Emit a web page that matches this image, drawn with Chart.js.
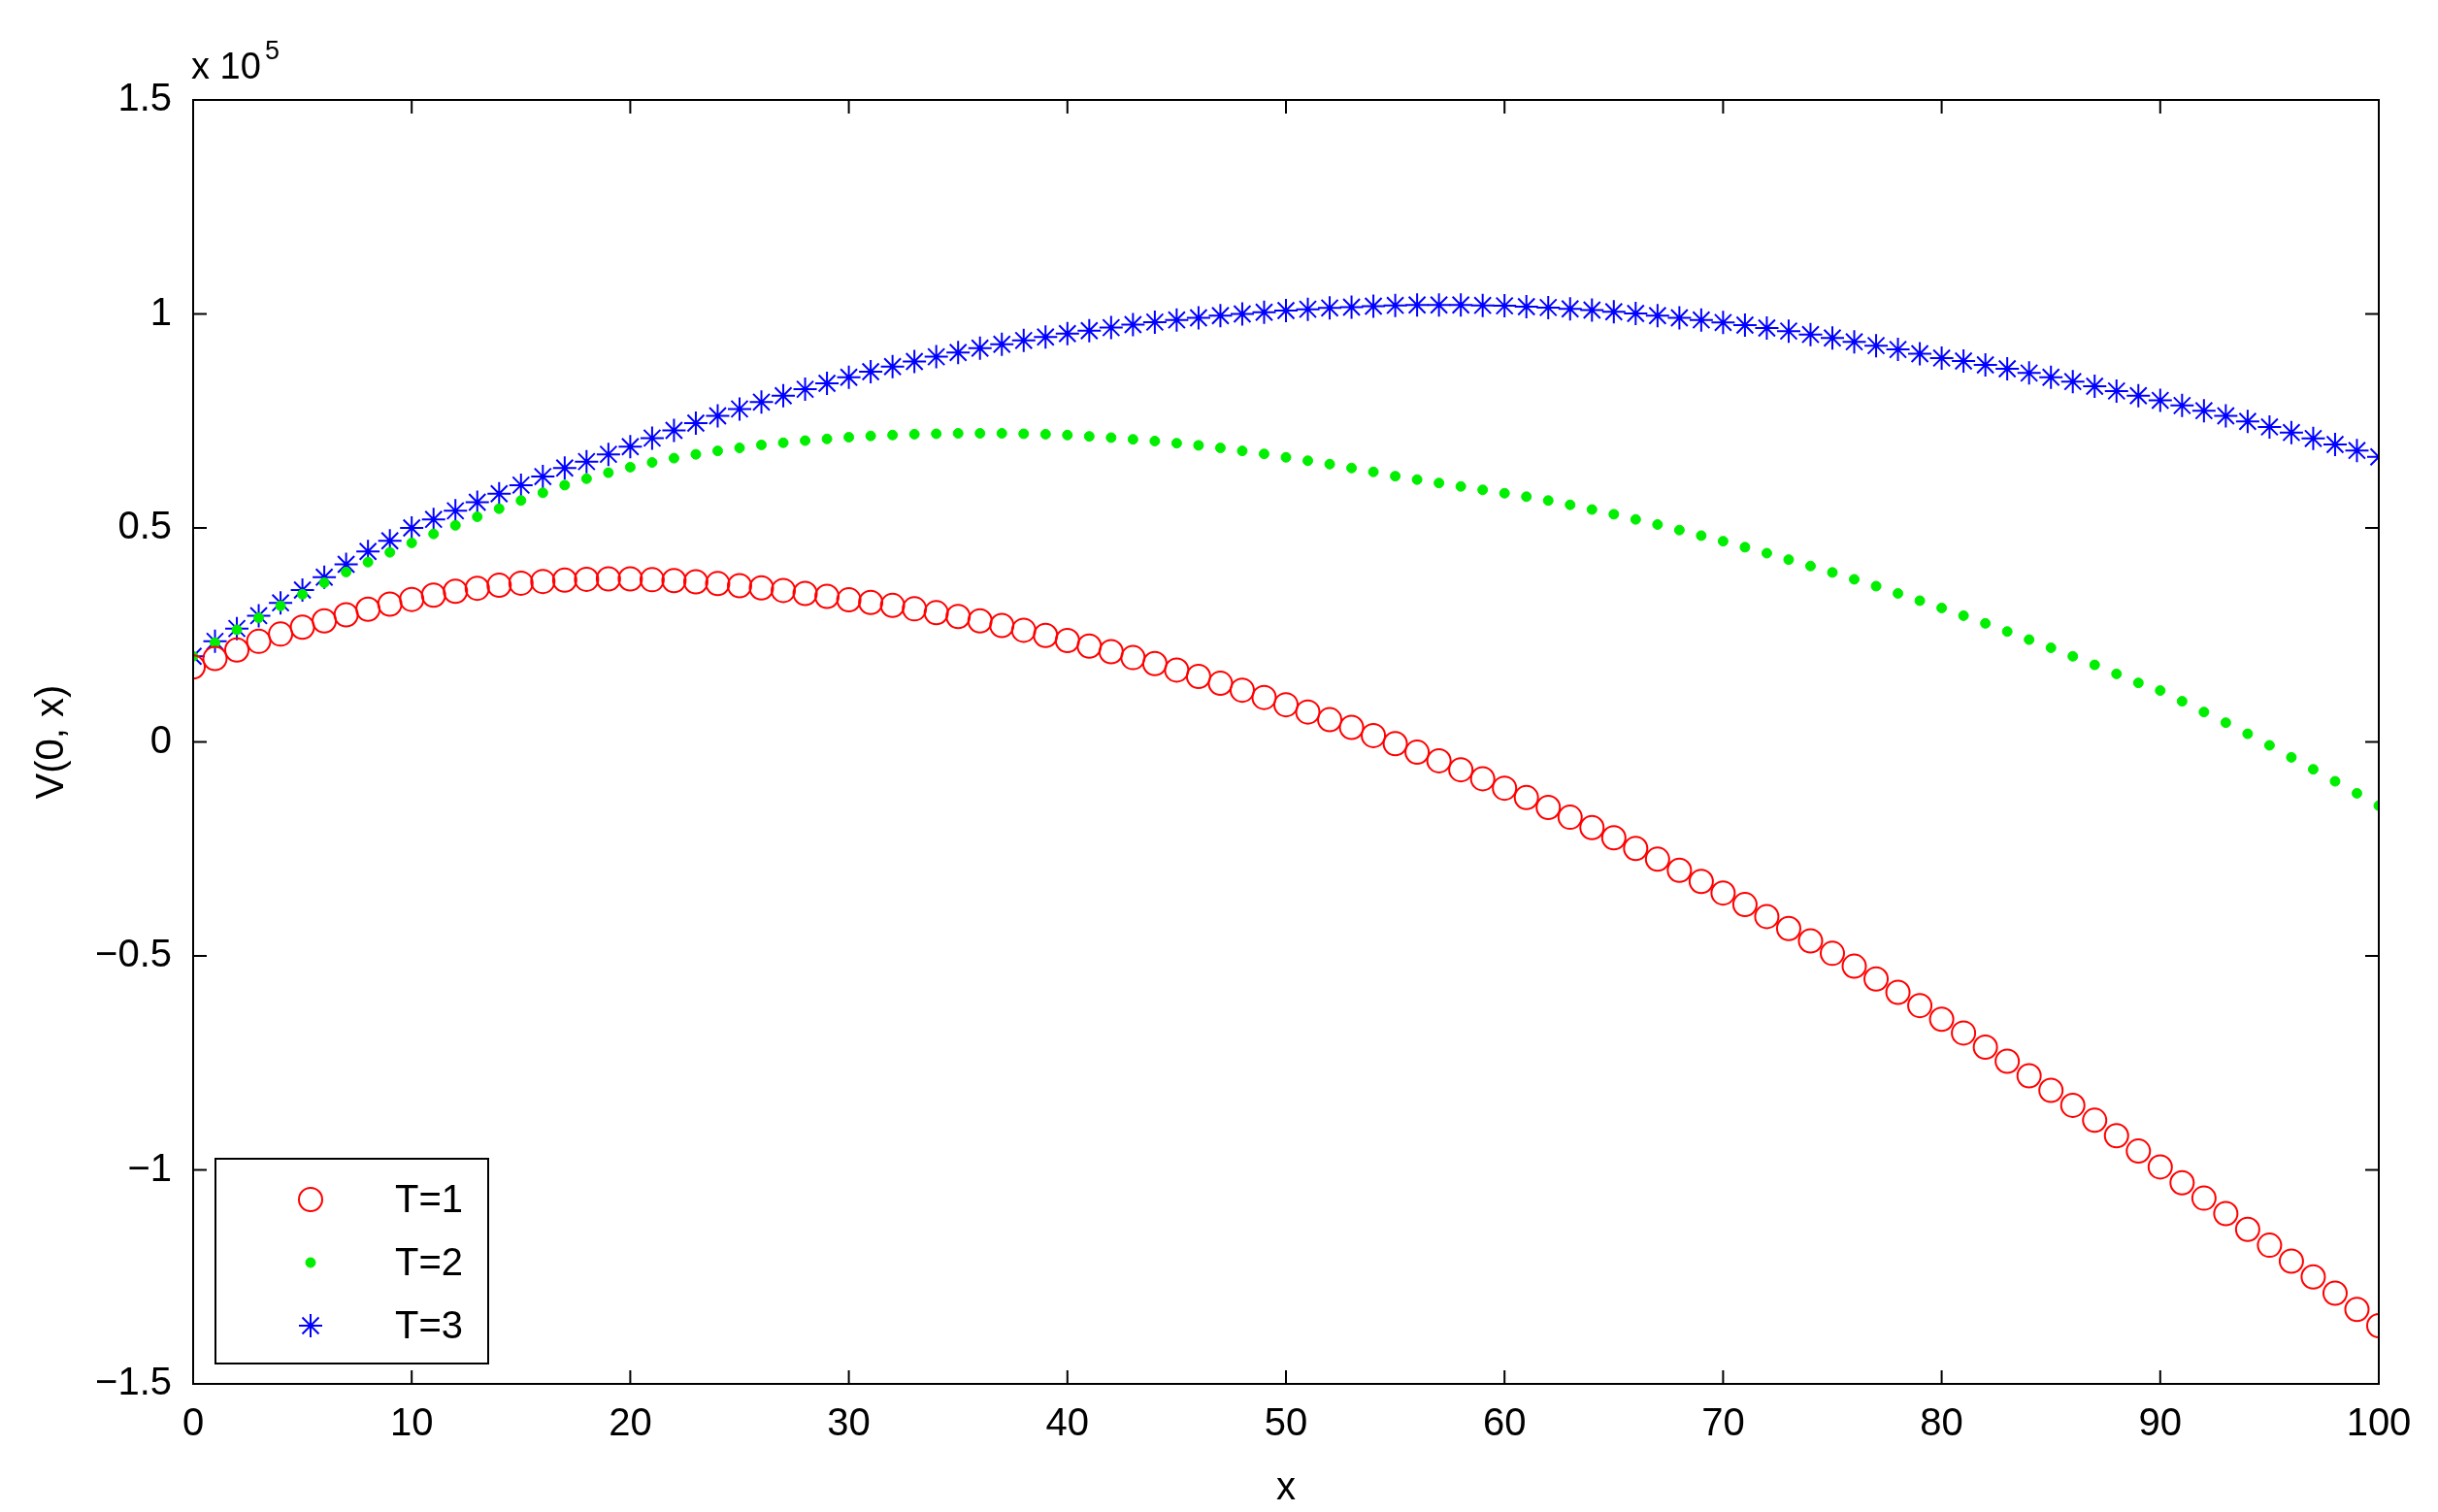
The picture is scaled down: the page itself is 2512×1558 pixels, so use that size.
<!DOCTYPE html>
<html>
<head>
<meta charset="utf-8">
<script src="https://cdn.jsdelivr.net/npm/chart.js@4"></script>
<style>
html,body{margin:0;padding:0;background:#fff;}
#wrap{width:2512px;height:1558px;}
</style>
</head>
<body>
<div id="wrap"><canvas id="c" width="2512" height="1558"></canvas></div>
<script>
// x values 0..100, y in units of 1e5
const xs = [];
for (let i = 0; i <= 100; i++) xs.push(i);

const t1 = [.175,.195,.215,.235,.252,.268,.283,.297,.31,.322,.333,
  .343,.352,.359,.366,.371,.375,.378,.38,.381,.381,
  .379,.377,.374,.37,.365,.36,.354,.347,.34,.332,
  .326,.319,.311,.302,.293,.283,.272,.261,.249,.237,
  .224,.211,.197,.183,.168,.153,.137,.121,.104,.087,
  .07,.052,.034,.015,-.004,-.024,-.044,-.065,-.086,-.108,
  -.13,-.153,-.176,-.2,-.224,-.249,-.274,-.3,-.326,-.353,
  -.38,-.408,-.436,-.465,-.494,-.524,-.554,-.585,-.616,-.648,
  -.68,-.713,-.746,-.78,-.814,-.849,-.884,-.92,-.956,-.993,
  -1.03,-1.066,-1.102,-1.139,-1.176,-1.213,-1.25,-1.288,-1.326,-1.364];
const t2 = [.2,.232,.262,.29,.318,.345,.372,.397,.42,.443,.465,
  .486,.506,.526,.545,.564,.582,.6,.615,.629,.642,
  .653,.663,.672,.68,.687,.694,.699,.704,.708,.712,
  .715,.717,.719,.72,.721,.721,.721,.72,.719,.717,
  .714,.711,.707,.703,.698,.693,.687,.68,.673,.665,
  .657,.649,.64,.631,.621,.613,.605,.597,.589,.581,
  .573,.564,.554,.543,.532,.52,.508,.495,.482,.469,
  .455,.441,.426,.411,.396,.38,.364,.347,.33,.313,
  .295,.277,.258,.239,.22,.2,.18,.159,.138,.12,
  .095,.07,.045,.019,-.008,-.036,-.064,-.092,-.12,-.149];
const t3 = [.2,.235,.265,.295,.325,.355,.385,.415,.445,.47,.5,
  .52,.54,.56,.58,.6,.62,.64,.655,.672,.69,
  .71,.728,.745,.762,.778,.794,.809,.824,.838,.852,
  .865,.877,.889,.9,.91,.92,.929,.938,.946,.954,
  .961,.968,.975,.981,.986,.991,.996,1.0,1.004,1.008,
  1.011,1.014,1.016,1.018,1.02,1.021,1.021,1.021,1.02,1.019,
  1.017,1.015,1.012,1.009,1.005,1.001,.996,.991,.986,.98,
  .974,.967,.96,.952,.944,.935,.926,.917,.907,.897,
  .89,.881,.872,.862,.852,.842,.831,.82,.809,.798,
  .786,.774,.762,.749,.736,.723,.709,.695,.681,.666];

const xTicks = [0,10,20,30,40,50,60,70,80,90,100];
const yTicks = [-1.5,-1,-0.5,0,0.5,1,1.5];
const labels = ['T=1','T=2','T=3'];

const FONT = 'Liberation Sans, Arial, sans-serif';
const fmt = v => (v < 0 ? '\u2212' + Math.abs(v) : String(v));

function pts(ys){ return xs.map((x,i) => ({x:x, y:ys[i]})); }

const sets = [
  {label:labels[0], data:pts(t1), pointStyle:'circle', pointRadius:12, borderColor:'#ff0000', backgroundColor:'rgba(0,0,0,0)', pointBorderWidth:2},
  {label:labels[1], data:pts(t2), pointStyle:'circle', pointRadius:5, borderColor:'#00ee00', backgroundColor:'#00ee00', pointBorderWidth:1},
  {label:labels[2], data:pts(t3), pointStyle:'star', pointRadius:12, borderColor:'#0000ff', backgroundColor:'#0000ff', pointBorderWidth:2}
];
sets.forEach(s => { s.showLine = false; s.pointHoverRadius = s.pointRadius; });

const frame = {
  id:'frame',
  afterDraw(chart){
    const ctx = chart.ctx, a = chart.chartArea;
    const xs_ = chart.scales.x, ys_ = chart.scales.y;
    ctx.save();
    ctx.strokeStyle = '#000'; ctx.lineWidth = 2;
    ctx.strokeRect(a.left, a.top, a.right-a.left, a.bottom-a.top);
    ctx.beginPath();
    xTicks.forEach(v => {
      const p = xs_.getPixelForValue(v);
      ctx.moveTo(p, a.bottom); ctx.lineTo(p, a.bottom-14);
      ctx.moveTo(p, a.top); ctx.lineTo(p, a.top+14);
    });
    yTicks.forEach(v => {
      const p = ys_.getPixelForValue(v);
      ctx.moveTo(a.left, p); ctx.lineTo(a.left+14, p);
      ctx.moveTo(a.right, p); ctx.lineTo(a.right-14, p);
    });
    ctx.stroke();
    // exponent
    ctx.fillStyle = '#000';
    ctx.font = '38px ' + FONT;
    ctx.textBaseline = 'alphabetic';
    ctx.fillText('x 10', a.left - 2, a.top - 22);
    ctx.font = '27px ' + FONT;
    ctx.fillText('5', a.left + 74, a.top - 42);
    // legend
    const lx = a.left + 23, ly = a.top + 1091, lw = 281, lh = 211;
    ctx.fillStyle = '#fff';
    ctx.fillRect(lx, ly, lw, lh);
    ctx.strokeRect(lx, ly, lw, lh);
    ctx.font = '40px ' + FONT;
    ctx.textBaseline = 'middle';
    sets.forEach((s, i) => {
      const cy = ly + 42 + i * 65;
      ctx.strokeStyle = s.borderColor; ctx.fillStyle = s.backgroundColor; ctx.lineWidth = s.pointBorderWidth;
      Chart.helpers.drawPoint(ctx, {pointStyle:s.pointStyle, radius:s.pointRadius, rotation:0, borderWidth:s.pointBorderWidth}, lx + 98, cy);
      ctx.fillStyle = '#000';
      ctx.fillText(s.label, lx + 185, cy + 2);
    });
    ctx.restore();
  }
};

new Chart(document.getElementById('c'), {
  type:'scatter',
  data:{datasets:sets},
  options:{
    responsive:false, animation:false,
    layout:{padding:{left:0, right:61, top:103, bottom:0}},
    plugins:{legend:{display:false}, tooltip:{enabled:false}},
    scales:{
      x:{
        type:'linear', min:0, max:100,
        afterBuildTicks: s => { s.ticks = xTicks.map(v => ({value:v})); },
        afterFit: s => { s.height = 132; },
        grid:{display:false}, border:{display:false},
        ticks:{color:'#000', font:{family:FONT, size:40}, padding:10, maxRotation:0, callback:v => fmt(v)},
        title:{display:true, text:'x', color:'#000', font:{family:FONT, size:40}, padding:{top:0, bottom:0}}
      },
      y:{
        type:'linear', min:-1.5, max:1.5,
        afterBuildTicks: s => { s.ticks = yTicks.map(v => ({value:v})); },
        afterFit: s => { s.width = 199; },
        grid:{display:false}, border:{display:false},
        ticks:{color:'#000', font:{family:FONT, size:40}, padding:14, callback:v => fmt(v)},
        title:{display:true, text:'V(0, x)', color:'#000', font:{family:FONT, size:40}, padding:{top:30, bottom:10}}
      }
    }
  },
  plugins:[frame]
});
</script>
</body>
</html>
